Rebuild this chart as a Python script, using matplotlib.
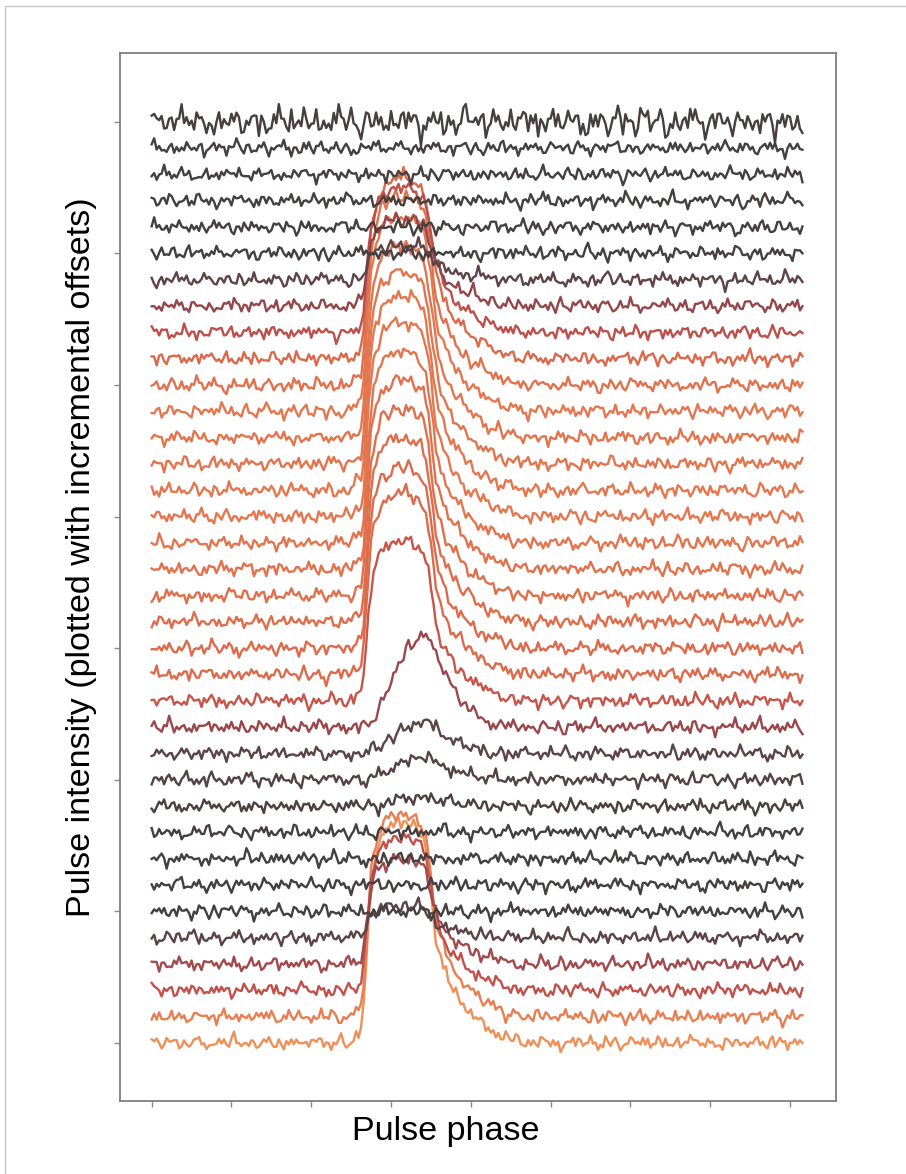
import numpy as np
import matplotlib
matplotlib.use("Agg")
import matplotlib.pyplot as plt
from matplotlib.colors import LinearSegmentedColormap
from matplotlib.patches import Rectangle

plt.rcParams['font.family'] = ['Liberation Sans', 'DejaVu Sans']

# Pulse amplitude of each sub-integration (bottom row first), in units of the row offset
pulse_amplitude = [8.4, 7.7, 5.8, 4.0, 1.2, 0.0, 0.0, 0.0, 0.0, 0.35,
                   0.87, 1.2, 3.5, 6.1, 6.9, 6.9, 7.0, 7.1, 7.2, 7.3,
                   7.4, 7.4, 7.3, 7.3, 7.4, 7.2, 6.85, 5.5, 3.3, 1.3,
                   0.0, 0.0, 0.0, 0.0, 0.0, 0.0]

# Emission mode of each row: 'B' = bright narrow profile, 'W' = weak broad profile
pulse_mode = ['B', 'B', 'B', 'B', 'B', 'B', 'B', 'B', 'B', 'W',
              'W', 'W', 'W', 'B', 'B', 'B', 'B', 'B', 'B', 'B',
              'B', 'B', 'B', 'B', 'B', 'B', 'B', 'B', 'B', 'B',
              'B', 'B', 'B', 'B', 'B', 'B']

# Relative off-pulse noise level of each row
noise_level = [1.0] * 35 + [2.1]

# Average profile shapes (peak = 1) over the on-pulse bins
bright_start_bin = 80
bright_profile = [0.01, 0.02, 0.03, 0.04, 0.06, 0.15, 0.35, 0.55, 0.70, 0.80,
                  0.86, 0.90, 0.93, 0.95, 0.96, 0.97, 0.98, 0.99, 1.0, 1.0,
                  0.99, 1.0, 1.0, 0.99, 0.99, 0.98, 0.97, 0.96, 0.94, 0.92,
                  0.88, 0.80, 0.70, 0.58, 0.49, 0.43, 0.38, 0.34, 0.31, 0.28,
                  0.26, 0.24, 0.22, 0.20, 0.185, 0.17, 0.155, 0.14, 0.13, 0.12,
                  0.11, 0.10, 0.09, 0.08, 0.072, 0.065, 0.058, 0.052, 0.046, 0.04,
                  0.035, 0.03, 0.026, 0.022, 0.018, 0.015, 0.012, 0.009, 0.006, 0.004,
                  0.002]
weak_start_bin = 84
weak_profile = [0.0, 0.02, 0.03, 0.05, 0.07, 0.09, 0.12, 0.17, 0.23, 0.29,
                0.36, 0.43, 0.50, 0.56, 0.62, 0.68, 0.73, 0.77, 0.81, 0.85,
                0.88, 0.91, 0.94, 0.96, 0.98, 1.0, 1.0, 0.96, 0.91, 0.85,
                0.79, 0.73, 0.67, 0.61, 0.56, 0.51, 0.46, 0.42, 0.38, 0.34,
                0.30, 0.27, 0.24, 0.21, 0.18, 0.16, 0.14, 0.12, 0.10, 0.085,
                0.07, 0.06, 0.05, 0.04, 0.03, 0.025, 0.02, 0.015, 0.01, 0.005]

# Off-pulse noise per phase bin (arbitrary counts): fast jitter and slow baseline wander
jitter_counts = [3, -2, 5, 1, -4, 0, 6, -1, -3, 2, 4, -5, 1, 7, -2, -6,
                 0, 3, -1, 5, -3, 2, -7, 1, 4, 0, -2, 6, -4, 3, -1, -5,
                 2, 8, -3, 0, -2, 4, 1, -6, 3, 5, -1, -3, 0, 2, -4, 6,
                 1, -2, -5, 3, 0, -1, 7, -3, 2, -6, 4, 1, -2, 0, 5, -4,
                 3, -1, -7, 2, 6, -3, 0, 1, -5, 4, -2, 3, 9, -1, -4, 2,
                 0, -3, 5, -6, 1, 3, -2, 4, -1, -5, 0, 2, 7, -3, 1, -4,
                 6, -2, 0, 3, -8, 2, 5, -1, -3, 4, 0, -2, 1, 6, -5, 3,
                 -1, 2, -4, 0, 5, -3, 7, -2, 1, -6, 3, 0, -1, 4, -3, 2,
                 8, -5, 1, -2, 0, 3, -4, 6, -1, 2, -7, 4, 0, -3, 5, 1,
                 -2, -5, 3, 6, -1, 0, -4, 2, -3, 7, 1, -6, 4, -2, 0, 3,
                 -1, 5, -4, 2, -8, 1, 3, 0, -2, 6, -3, 4, -1, -5, 2, 0,
                 7, -2, 3, -4, 1, -6, 5, 0, -3, 2, 4, -1, -7, 3, 1, -2,
                 6, 0, -4, 2, -1, 5, -3, 8, -2, 0, -5, 3, 1, -4, 6, -1,
                 2, -3, 0, 4, -6, 1, 3, -2, 7, -5, 0, 2, -1, 4, -3, 6,
                 -2, 1, -4, 0, 3, -7, 5, 2, -1, -3, 4, 0, -5, 2, 6, -2,
                 1, -3, 0, 5, -4, 3, -1, -6, 2, 9, -3, 0, 1, -2, 4, -5,
                 3, -1, 2, -4, 5, 0]
wander_counts = [2, 4, 1, -1, -3, -2, 1, 3, 5, 2, 0, -2, -5, -3, 0, 1,
                 -1, 2, 6, 3, 1, -2, -1, -4, -6, -2, 1, 0, 3, 2, -1, 0,
                 4, 7, 3, 0, -2, -4, -1, 2, 1, -3, -5, -2, 0, 3, 5, 2,
                 -1, -3, 0, 2, -2, -7, -4, 1, 3, 4, 1, -1, 2, 0, -3, -1,
                 1, 5, 8, 4, 0, -2, 1, -1, -4, -3, 0, 2, 4, 1, -2, -5,
                 -3, 0, 2, 1, 3, 6, 2, -1, -3, 0, -2, -6, -3, 1, 2, 4,
                 0, -2, 1, 3, 2, -1, -4, -2, 0, 5, 3, -1, -3, -1, 2, 1,
                 -2, -5, -8, -3, 0, 2, 4, 1, -1, 3, 6, 2, -2, -1, 0, -3,
                 -1, 2, 1, 4, 7, 3, -1, -4, -2, 0, 1, -2, -5, -1, 3, 2,
                 0, 3, 5, 1, -2, -4, -1, 2, 0, -3, -2, 1, 4, 8, 3, -1,
                 -3, -1, 1, 0, -4, -6, -2, 2, 3, 1, -1, 2, 5, 1, -2, 0,
                 3, 1, -2, -5, -3, 0, 4, 2, -1, 1, 3, 0, -3, -7, -2, 1,
                 2, 5, 3, 0, -1, 2, 1, -2, -4, -1, 3, 6, 2, -1, 0, -2,
                 -4, -1, 1, 3, 0, -3, -1, 2, 4, 9, 4, 1, -2, -4, -2, 0,
                 2, 1, -1, -3, -6, -2, 1, 3, 2, -1, 0, 4, 2, -2, -5, -3,
                 0, 2, 5, 3, 1, -1, -3, -1, 2, 0, -2, 1, 6, 3, -1, -4,
                 -2, 1, 3, 2, -1, 0]
jitter_unit = 0.028
wander_unit = 0.03

# Colour of a row follows its pulse amplitude
color_amplitudes = [0.0, 1.2, 3.5, 6.0, 7.0, 8.5]
color_stops = ['#463f3f', '#5a4446', '#9a474c', '#c4524a', '#df6d4b', '#f0935a']

n_bins = len(jitter_counts)
phase = np.arange(n_bins)
jitter = np.array(jitter_counts, dtype=float)
wander = np.array(wander_counts, dtype=float)

templates = {}
for key, start, prof in (('B', bright_start_bin, bright_profile),
                         ('W', weak_start_bin, weak_profile)):
    t = np.zeros(n_bins)
    t[start:start + len(prof)] = prof
    templates[key] = t

amax = color_amplitudes[-1]
cmap = LinearSegmentedColormap.from_list(
    'pulse', [(a / amax, c) for a, c in zip(color_amplitudes, color_stops)])

fig = plt.figure(figsize=(9.06, 11.74), dpi=100)
ax = fig.add_axes([0.1319, 0.0622, 0.7904, 0.8927])

for row, (amp, mode, lvl) in enumerate(zip(pulse_amplitude, pulse_mode, noise_level)):
    j = np.roll(jitter, (row * 97) % n_bins)
    w = np.roll(wander, (row * 53) % n_bins)
    if row % 2:
        j = j[::-1]
        w = -w[::-1]
    row_noise = jitter_unit * j + wander_unit * w
    trace = row + amp * templates[mode] + lvl * row_noise
    ax.plot(phase, trace, color=cmap(min(amp / amax, 1.0)), lw=1.7)

ax.set_xlim(-12.9, 274.3)
ax.set_ylim(-2.2, 37.62)
ax.set_xticks(np.arange(0, 257, 32))
ax.set_yticks(np.arange(0, 36, 5))
ax.tick_params(labelbottom=False, labelleft=False, length=4, width=1.0,
               color='#8a8a8a', direction='out')
for sp in ax.spines.values():
    sp.set_color('#7f7f7f')
    sp.set_linewidth(1.3)

ax.set_xlabel('Pulse phase', fontsize=24.6)
ax.xaxis.set_label_coords(0.455, -0.0143)
ax.set_ylabel('Pulse intensity (plotted with incremental offsets)', fontsize=24.6)
ax.yaxis.set_label_coords(-0.032, 0.519)

# thin frame around the figure
fig.add_artist(Rectangle((5 / 906, -0.05), 1.2, 1 - 6 / 1174 + 0.05,
                         transform=fig.transFigure, fill=False,
                         edgecolor='#c8c8c8', lw=1.0))

fig.savefig('out.png', dpi=100)
